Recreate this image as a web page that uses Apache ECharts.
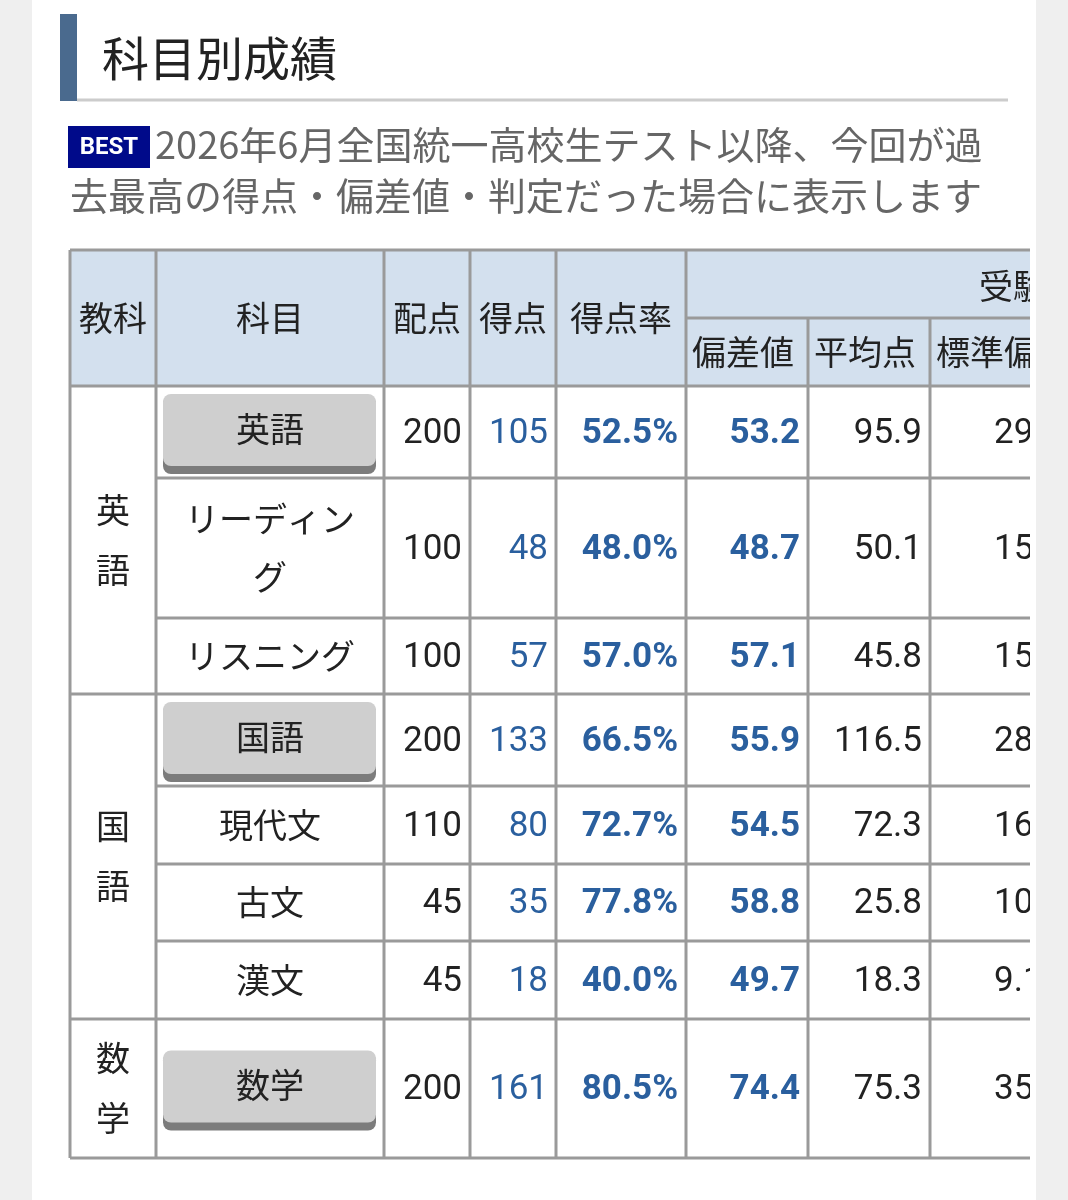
<!DOCTYPE html>
<html lang="ja" style="height: 100%">
<head>
  <meta charset="utf-8">
</head>
<body style="height: 100%; margin: 0">
  <div id="container" style="width: 1068px; height: 1200px"></div>
  <script type="text/javascript" src="https://fastly.jsdelivr.net/npm/echarts@6/dist/echarts.min.js"></script>
  <script type="text/javascript">
    // table data
    var groups = [
      { name: '英\n語', from: 0, to: 2 },
      { name: '国\n語', from: 3, to: 6 },
      { name: '数\n学', from: 7, to: 7 }
    ];
    var subjects = ['英語', 'リーディン\nグ', 'リスニング', '国語', '現代文', '古文', '漢文', '数学'];
    var isTotal = [true, false, false, true, false, false, false, true];
    var maxScore = [200, 100, 100, 200, 110, 45, 45, 200];
    var score = [105, 48, 57, 133, 80, 35, 18, 161];
    var rate = ['52.5%', '48.0%', '57.0%', '66.5%', '72.7%', '77.8%', '40.0%', '80.5%'];
    var deviation = ['53.2', '48.7', '57.1', '55.9', '54.5', '58.8', '49.7', '74.4'];
    var average = ['95.9', '50.1', '45.8', '116.5', '72.3', '25.8', '18.3', '75.3'];
    var stdDev = ['29.5', '15.8', '15.1', '28.4', '16.2', '10.3', '9.1', '35.6'];

    (function () {
      var colX = [70, 156, 384, 470, 556, 686, 808, 930, 1100];
      var rowY = [386, 478, 618, 694, 786, 864, 941, 1019, 1158];
      var headTop = 250, headMid = 318;
      var clipRight = 1030;

      var CJK = '"Noto Sans CJK JP", sans-serif';
      var NUM = 'Roboto, "Noto Sans CJK JP", sans-serif';
      var BLUE = '#2a5f9e';
      var LINE = '#9a9a9a';

      var els = [];
      function txt(x, y, s, o) {
        o = o || {};
        els.push({
          type: 'text', x: x, y: y, z: o.z || 5,
          style: {
            text: s, fill: o.color || '#222', font: (o.weight || 'normal') + ' ' + (o.size || 34) + 'px ' + (o.family || CJK),
            align: o.align || 'center', verticalAlign: 'middle', lineHeight: o.lh || 56
          }
        });
      }
      function line(x1, y1, x2, y2, w, c) {
        els.push({ type: 'line', z: 6, shape: { x1: x1, y1: y1, x2: x2, y2: y2 }, style: { stroke: c || LINE, lineWidth: w || 3 } });
      }
      function rect(x, y, w, h, fill, z, rad) {
        els.push({ type: 'rect', z: z || 1, shape: { x: x, y: y, width: w, height: h, r: rad || 0 }, style: { fill: fill } });
      }

      // page background
      rect(0, 0, 1068, 1200, '#efefef', 0);
      rect(32, 0, 1004, 1200, '#ffffff', 0);

      // title
      rect(60, 14, 17, 87, '#4a6a8e', 2);
      line(77, 100, 1008, 100, 3, '#cccccc');
      txt(102, 58, '科目別成績', { align: 'left', size: 47 });

      // note
      rect(68, 126, 82, 42, '#000a8a', 2);
      txt(109, 148, 'BEST', { size: 24, weight: 'bold', color: '#fff', family: NUM });
      txt(155, 145, '2026年6月全国統一高校生テスト以降、今回が過', { align: 'left', size: 38, color: '#666' });
      txt(70, 196, '去最高の得点・偏差値・判定だった場合に表示します', { align: 'left', size: 38, color: '#666' });

      // header
      rect(colX[0], headTop, colX[8] - colX[0], rowY[0] - headTop, '#d3e0ee', 1);
      var headers = ['教科', '科目', '配点', '得点', '得点率'];
      for (var h = 0; h < headers.length; h++) {
        txt((colX[h] + colX[h + 1]) / 2, 318, headers[h]);
      }
      txt(1030, 286, '受験者');
      var sub = ['偏差値', '平均点', '標準偏差'];
      for (var k = 0; k < sub.length; k++) {
        txt(colX[5 + k] + 6, 352, sub[k], { align: 'left' });
      }
      line(colX[0], headTop, colX[8], headTop);
      line(colX[5], headMid, colX[8], headMid);
      line(colX[0], rowY[0], colX[8], rowY[0]);
      for (var c = 0; c < 6; c++) line(colX[c], headTop, colX[c], rowY[8]);
      line(colX[6], headMid, colX[6], rowY[8]);
      line(colX[7], headMid, colX[7], rowY[8]);

      // body rows
      subjects.forEach(function (name, i) {
        var y1 = rowY[i], y2 = rowY[i + 1];
        var cy = (y1 + y2) / 2;
        if (isTotal[i]) {
          rect(163, cy - 36, 213, 78, '#7c7c7c', 2, 8);
          rect(163, cy - 38, 213, 72, '#cfcfcf', 3, 8);
          txt(270, cy - 3, name);
        } else {
          txt(270, cy, name, { lh: 58 });
        }
        function cell(col, s, o) {
          txt(colX[col + 1] - 8, cy + 2, String(s), Object.assign({ align: 'right', family: NUM, size: 35 }, o || {}));
        }
        cell(2, maxScore[i]);
        cell(3, score[i], { color: BLUE });
        cell(4, rate[i], { color: BLUE, weight: 'bold' });
        cell(5, deviation[i], { color: BLUE, weight: 'bold' });
        cell(6, average[i]);
        txt(colX[7] + 64, cy + 2, stdDev[i], { align: 'left', family: NUM, size: 35 });
        if (i < subjects.length - 1) {
          var groupEnd = groups.some(function (g) { return g.to === i; });
          line(groupEnd ? colX[0] : colX[1], y2, colX[8], y2);
        }
      });
      line(colX[0], rowY[8], colX[8], rowY[8]);

      groups.forEach(function (g) {
        var gy1 = rowY[g.from], gy2 = rowY[g.to + 1];
        txt((colX[0] + colX[1]) / 2, (gy1 + gy2) / 2, g.name, { lh: 60 });
      });

      // clip the right edge of the table
      rect(clipRight, 0, 6, 1200, '#ffffff', 20);
      rect(1036, 0, 32, 1200, '#efefef', 20);

      var chart = echarts.init(document.getElementById('container'));
      chart.setOption({ animation: false, graphic: { elements: els } });
    })();
  </script>
</body>
</html>
